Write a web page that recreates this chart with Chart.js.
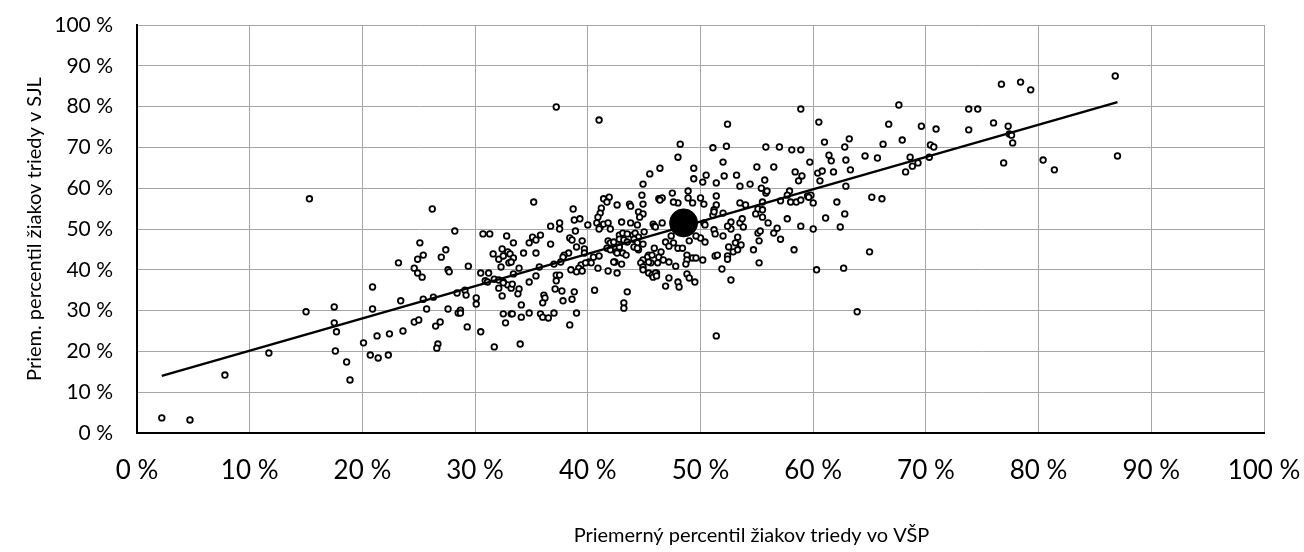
<!DOCTYPE html>
<html lang="sk">
<head>
<meta charset="UTF-8">
<title>Percentil VŠP a SJL</title>
<script src="https://cdn.jsdelivr.net/npm/chart.js@4.4.0/dist/chart.umd.min.js"></script>
<style>
    html, body { margin: 0; padding: 0; background: #fff; }
    #wrap { width: 1304px; height: 552px; }
</style>
</head>
<body>
<div id="wrap"><canvas id="chart" width="1304" height="552"></canvas></div>
<script>
// priemerny percentil triedy (x = VSP, y = SJL), v percentach
const classX = [
 15.3,15.0,17.5,17.5,17.7,11.7,17.6,18.6,18.9,7.8,2.2,4.7,
 26.2,28.2,25.1,30.7,31.3,32.8,27.4,25.4,24.9,27.0,23.2,31.6,32.4,32.1,32.5,32.9,33.0,24.6,29.4,27.6,32.3,
 24.9,25.3,27.7,30.5,31.2,20.9,30.9,31.1,31.7,32.1,32.5,32.1,32.9,33.2,32.4,20.9,23.4,25.4,26.3,28.4,29.1,29.2,30.1,30.1,
 25.7,27.6,28.5,28.7,28.7,24.6,25.0,26.9,26.5,29.3,30.5,32.5,32.7,33.2,23.6,21.3,22.4,20.1,26.7,26.6,31.7,20.7,21.4,22.3,
 37.2,41.0,35.2,38.7,45.5,46.4,44.9,44.8,41.4,41.9,41.7,42.6,43.7,43.8,44.9,46.3,41.2,41.1,40.9,44.5,44.9,44.6,38.8,39.3,
 37.5,36.7,37.5,38.9,40.0,40.8,41.1,41.4,41.8,42.0,41.0,43.0,43.8,44.4,45.8,45.9,45.0,35.1,35.4,35.8,34.8,33.4,33.1,33.4,
 33.2,34.3,35.4,36.7,38.4,38.6,39.5,39.0,39.7,38.3,37.9,37.8,37.6,39.7,40.1,40.5,41.0,40.3,39.4,39.2,37.0,35.7,33.9,41.8,
 42.0,42.3,41.7,42.0,42.5,42.8,42.6,42.8,43.1,43.5,44.0,44.2,44.5,42.8,43.2,43.5,44.1,44.4,44.9,44.1,44.5,44.4,45.4,45.3,
 44.9,44.7,44.9,45.6,45.9,46.2,46.3,43.1,43.4,42.4,43.0,40.9,
 33.4,32.5,33.3,33.9,33.8,34.8,35.4,37.2,37.5,37.2,37.1,37.7,36.1,36.2,36.0,37.8,38.6,38.8,38.5,39.0,39.5,39.8,41.8,42.6,
 42.3,40.6,43.5,43.2,43.2,44.9,45.4,45.7,45.8,46.1,45.4,33.3,34.1,34.8,35.8,36.0,36.5,37.0,39.0,38.4,34.1,34.0,
 58.9,52.4,48.2,51.1,52.3,55.8,57.0,58.1,58.9,48.0,52.0,59.7,49.4,55.0,56.5,50.5,49.4,50.2,51.4,52.1,53.2,53.5,54.4,55.7,
 58.4,59.0,58.7,55.4,55.8,55.9,57.9,57.7,59.5,59.8,47.5,48.0,47.6,46.6,46.4,48.9,48.9,50.0,49.3,50.3,51.4,51.4,51.2,53.5,
 54.0,55.5,55.1,55.5,57.1,58.0,58.5,58.9,52.0,51.1,51.2,54.9,55.5,57.7,58.9,50.3,50.4,52.7,53.5,53.7,53.8,52.7,52.4,56.0,
 56.8,56.5,55.1,55.2,55.3,57.1,58.3,46.0,46.6,46.9,47.6,47.2,48.0,48.4,47.4,50.0,50.4,49.6,49.0,51.2,51.3,52.0,53.3,53.1,
 53.6,52.5,52.9,53.3,54.7,51.3,51.5,52.4,52.4,48.8,48.8,48.7,49.3,49.6,50.2,46.5,45.7,46.7,47.2,47.8,55.2,51.9,
 46.0,46.1,47.2,46.9,48.0,48.1,48.8,49.0,49.5,52.7,51.4,
 67.6,73.8,60.5,66.7,69.6,70.9,73.8,61.0,63.2,62.8,66.2,67.9,70.4,70.7,61.4,61.6,62.9,64.6,65.7,68.6,68.8,68.2,69.3,70.3,
 60.4,60.8,61.8,63.3,60.6,62.9,59.6,60.0,62.1,65.2,66.1,61.1,62.8,62.4,60.0,65.0,60.3,62.7,63.9,
 76.7,78.4,79.3,86.8,74.6,76.0,77.3,77.4,77.6,77.7,76.9,80.4,81.4,87.0
];
const classY = [
 57.4,29.7,30.9,27.0,24.8,19.6,20.1,17.4,13.0,14.2,3.7,3.2,
 54.9,49.5,46.6,48.8,48.8,48.3,44.9,43.6,42.6,43.1,41.7,43.9,45.1,42.6,43.4,44.4,41.7,40.4,40.9,40.0,40.7,
 39.2,38.2,39.5,39.2,39.2,35.8,37.3,37.0,37.7,37.5,37.0,35.5,36.3,35.5,33.6,30.4,32.4,32.8,33.3,34.3,35.0,33.8,33.1,31.6,
 30.4,30.4,29.4,30.1,29.4,27.2,27.7,27.2,26.2,26.0,24.8,29.2,27.0,29.2,25.0,23.8,24.3,22.1,21.8,20.8,21.1,19.1,18.4,19.1,
 79.9,76.7,56.6,54.9,63.5,64.9,61.0,58.3,57.4,57.8,56.6,55.9,56.1,55.6,56.1,57.4,55.1,53.9,52.9,54.2,53.7,52.9,52.2,52.5,
 51.5,50.7,50.0,49.5,51.0,51.5,50.5,51.2,51.5,50.0,50.0,51.7,51.5,51.0,51.2,50.7,49.3,48.0,47.3,48.5,46.6,46.6,43.9,42.9,
 41.9,44.1,44.1,46.3,47.8,47.3,47.1,45.6,45.1,44.1,43.6,43.1,41.9,44.1,41.9,43.1,43.4,41.7,41.2,40.4,41.4,40.7,40.4,47.1,
 46.6,46.8,45.3,44.9,44.4,45.6,44.1,48.5,49.0,48.8,48.5,49.0,48.0,47.5,47.3,46.8,47.5,46.6,46.3,45.6,44.9,45.3,43.6,43.1,
 42.4,41.7,40.7,41.7,45.3,41.7,43.1,44.1,43.6,41.9,41.4,40.4,
 39.0,36.8,36.5,35.3,34.1,37.0,38.5,38.7,38.7,37.3,35.3,34.8,33.8,33.1,31.9,32.4,32.8,34.6,40.0,39.5,39.7,41.7,39.7,39.2,
 41.9,35.0,34.6,31.9,30.6,40.0,39.2,38.7,38.2,39.2,41.9,29.2,28.4,29.4,29.2,28.4,28.2,29.4,29.4,26.5,31.4,21.8,
 79.4,75.7,70.8,69.9,70.3,70.1,70.1,69.4,69.4,67.6,66.4,66.4,64.9,65.2,65.2,63.2,62.3,61.5,61.3,63.0,63.2,60.5,61.0,62.0,
 64.0,63.0,61.8,60.0,58.8,59.3,59.3,58.3,58.1,58.3,58.8,56.4,56.6,57.6,57.1,59.3,57.6,57.6,56.4,56.1,58.1,55.9,54.7,56.4,
 55.9,56.6,54.9,54.7,56.9,56.6,56.6,57.1,53.9,53.4,54.2,53.7,52.9,52.5,50.7,51.5,51.0,51.7,51.5,52.5,50.5,50.0,50.7,51.5,
 50.2,49.0,49.0,47.1,49.5,47.5,44.9,50.5,51.5,46.8,46.6,45.8,45.3,45.3,48.3,47.8,46.8,48.3,47.1,49.8,48.8,48.3,48.0,46.6,
 46.1,45.6,44.4,44.9,44.9,43.4,43.6,43.4,42.6,43.6,42.4,41.4,42.9,42.9,42.4,44.4,43.6,42.4,41.9,40.9,41.7,40.2,
 39.2,38.5,38.0,36.0,37.0,35.8,39.0,38.0,37.0,37.5,23.8,
 80.4,79.4,76.2,75.7,75.2,74.5,74.3,71.3,72.1,70.1,70.8,71.8,70.6,70.1,68.1,66.7,66.9,67.9,67.4,67.6,65.4,64.0,66.2,67.6,
 63.7,64.2,64.0,64.5,61.8,60.5,57.8,56.4,56.6,57.8,57.4,52.7,53.7,50.5,50.0,44.4,40.0,40.4,29.7,
 85.5,86.0,84.1,87.5,79.4,76.0,75.2,73.3,73.0,71.1,66.2,66.9,64.5,67.9
];

// priemer vsetkych tried
const meanX = [48.5];
const meanY = [51.5];

// linearny trend (koncove body odcitane z grafu)
const trendX = [2.2, 87.0];
const trendY = [14.0, 81.1];

const axisMin = 0;
const axisMax = 100;
const axisStep = 10;

const xTitle = 'Priemerný percentil žiakov triedy vo VŠP';
const yTitle = 'Priem. percentil žiakov triedy v SJL';

const toPoints = (xs, ys) => xs.map((x, i) => ({ x: x, y: ys[i] }));
const pct = v => v + ' %';
const FONT = 'Lato, "Open Sans", Arial, sans-serif';
const GRID = '#a6a6a6';

// titulok osi x je v originali posunuty doprava od stredu
const xTitlePlugin = {
    id: 'xTitle',
    afterDraw(chart) {
        const ctx = chart.ctx;
        const area = chart.chartArea;
        ctx.save();
        ctx.font = '20px ' + FONT;
        ctx.fillStyle = '#000';
        ctx.textAlign = 'center';
        ctx.textBaseline = 'middle';
        ctx.fillText(xTitle, (area.left + area.right) / 2 + 51, 536);
        ctx.restore();
    }
};

new Chart(document.getElementById('chart'), {
    type: 'scatter',
    data: {
        datasets: [{
            label: 'Priemer',
            data: toPoints(meanX, meanY),
            backgroundColor: '#000',
            borderColor: '#000',
            pointRadius: 14,
            order: 0
        }, {
            label: 'Trend',
            type: 'line',
            data: toPoints(trendX, trendY),
            borderColor: '#000',
            borderWidth: 2.5,
            pointRadius: 0,
            fill: false,
            order: 1
        }, {
            label: 'Triedy',
            data: toPoints(classX, classY),
            backgroundColor: '#fff',
            borderColor: '#000',
            borderWidth: 1.8,
            pointRadius: 2.8,
            order: 2
        }]
    },
    options: {
        responsive: false,
        animation: false,
        layout: { padding: { top: 25, right: 40, left: 0, bottom: 0 } },
        plugins: {
            legend: { display: false },
            tooltip: { enabled: false }
        },
        scales: {
            x: {
                type: 'linear',
                min: axisMin,
                max: axisMax,
                afterFit: s => { s.height = 119; s.paddingLeft = 0; s.paddingRight = 0; },
                grid: { color: GRID, lineWidth: 1, drawTicks: false },
                border: { color: '#000', width: 2 },
                ticks: {
                    stepSize: axisStep,
                    padding: 22,
                    color: '#000',
                    font: { family: FONT, size: 26 },
                    callback: pct
                }
            },
            y: {
                type: 'linear',
                min: axisMin,
                max: axisMax,
                afterFit: s => { s.width = 137; s.paddingTop = 0; s.paddingBottom = 0; },
                grid: { color: GRID, lineWidth: 1, drawTicks: false },
                border: { color: '#000', width: 2 },
                ticks: {
                    stepSize: axisStep,
                    padding: 24,
                    color: '#000',
                    font: { family: FONT, size: 21 },
                    callback: pct
                },
                title: {
                    display: true,
                    text: yTitle,
                    color: '#000',
                    font: { family: FONT, size: 20 },
                    padding: { top: 23, bottom: 0 }
                }
            }
        }
    },
    plugins: [xTitlePlugin]
});
</script>
</body>
</html>
